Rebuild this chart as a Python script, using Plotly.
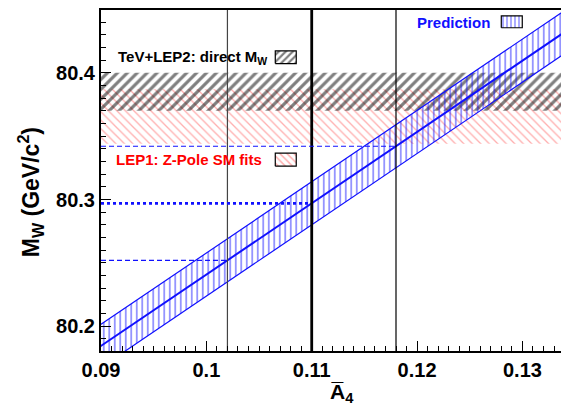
import plotly.graph_objects as go

# ---- data ----
x_range = [0.09, 0.13423]
y_range = [80.1805, 80.4495]

# direct W-mass band (TeV+LEP2)
direct_lo, direct_hi = 80.370, 80.400
# LEP1 Z-pole SM fit band
zpole_lo, zpole_hi = 80.344, 80.387

# prediction band: center line and edges at two A4 values
pred_a4 = [0.085, 0.140]
pred_center = [80.1564, 80.4658]
pred_upper = [80.1734, 80.4828]
pred_lower = [80.1394, 80.4488]

# reference A4 values and predicted MW
ref_a4 = [0.102, 0.110, 0.118]
ref_mw = [80.252, 80.297, 80.342]
ref_width = [1.2, 2.8, 1.2]
ref_dash = ["5px,3px", "3px,3px", "5px,3px"]
ref_vwidth = [1.2, 2.8, 1.2]
ref_vcolor = ["#444444", "black", "black"]

x_ticks = [0.09, 0.10, 0.11, 0.12, 0.13]
x_ticktext = ["0.09", "0.1", "0.11", "0.12", "0.13"]
y_ticks = [80.2, 80.3, 80.4]
y_ticktext = ["80.2", "80.3", "80.4"]

FONT = "Liberation Sans, Arial, Helvetica, sans-serif"
BLUE = "#1010ff"

fig = go.Figure()

x0, x1 = 0.08, 0.15
# red band
fig.add_trace(go.Scatter(
    x=[x0, x1, x1, x0, x0], y=[zpole_lo, zpole_lo, zpole_hi, zpole_hi, zpole_lo],
    fill="toself", mode="lines", line=dict(width=0),
    fillcolor="rgba(0,0,0,0)",
    fillpattern=dict(shape="\\", fgcolor="rgb(255,95,95)", bgcolor="rgba(0,0,0,0)",
                     size=6, solidity=0.22),
    hoverinfo="skip", showlegend=False))
# black band
fig.add_trace(go.Scatter(
    x=[x0, x1, x1, x0, x0], y=[direct_lo, direct_lo, direct_hi, direct_hi, direct_lo],
    fill="toself", mode="lines", line=dict(width=0),
    fillcolor="rgba(0,0,0,0)",
    fillpattern=dict(shape="/", fgcolor="black", bgcolor="rgba(0,0,0,0)",
                     size=7, solidity=0.45),
    hoverinfo="skip", showlegend=False))

# prediction band
fig.add_trace(go.Scatter(
    x=pred_a4 + pred_a4[::-1] + [pred_a4[0]],
    y=pred_upper + pred_lower[::-1] + [pred_upper[0]],
    fill="toself", mode="lines", line=dict(width=1.2, color=BLUE),
    fillcolor="rgba(0,0,0,0)",
    fillpattern=dict(shape="|", fgcolor=BLUE, bgcolor="rgba(0,0,0,0)",
                     size=5.5, solidity=0.3),
    hoverinfo="skip", showlegend=False))
fig.add_trace(go.Scatter(x=pred_a4, y=pred_center, mode="lines",
                         line=dict(width=2, color=BLUE), hoverinfo="skip", showlegend=False))

# horizontal dashed lines and vertical lines
for a, m, w, d, vw, vc in zip(ref_a4, ref_mw, ref_width, ref_dash, ref_vwidth, ref_vcolor):
    fig.add_trace(go.Scatter(x=[x_range[0], a], y=[m, m], mode="lines",
                             line=dict(width=w, color=BLUE, dash=d),
                             hoverinfo="skip", showlegend=False))
    fig.add_trace(go.Scatter(x=[a, a], y=[y_range[0] - 1, y_range[1] + 1], mode="lines",
                             line=dict(width=vw, color=vc),
                             hoverinfo="skip", showlegend=False))

# legend swatches (in plot-area fractions, on overlay axes)
sw = [
    dict(x=[0.374, 0.419], y=[0.843, 0.880], shape="/", fg="black", size=5, sol=0.45),
    dict(x=[0.374, 0.419], y=[0.542, 0.580], shape="\\", fg="rgb(255,95,95)", size=5, sol=0.3),
    dict(x=[0.859, 0.904], y=[0.948, 0.983], shape="|", fg=BLUE, size=4, sol=0.35),
]
for s in sw:
    xa, xb = s["x"]; ya, yb = s["y"]
    fig.add_trace(go.Scatter(
        x=[xa, xb, xb, xa, xa], y=[ya, ya, yb, yb, ya], xaxis="x2", yaxis="y2",
        fill="toself", mode="lines", line=dict(width=1.2, color="black"),
        fillcolor="rgba(0,0,0,0)",
        fillpattern=dict(shape=s["shape"], fgcolor=s["fg"], bgcolor="rgba(0,0,0,0)",
                         size=s["size"], solidity=s["sol"]),
        hoverinfo="skip", showlegend=False))

ann_font = dict(family=FONT, size=15, weight="bold")
annotations = [
    dict(text="TeV+LEP2: direct M<sub>W</sub>", x=0.361, y=0.860, xanchor="right",
         font=dict(ann_font, color="black")),
    dict(text="LEP1: Z-Pole SM fits", x=0.350, y=0.563, xanchor="right",
         font=dict(ann_font, color="red")),
    dict(text="Prediction", x=0.838, y=0.962, xanchor="right",
         font=dict(ann_font, color=BLUE)),
    dict(text="M<sub>W</sub> (GeV/c<sup>2</sup>)", x=-0.152, y=0.466, textangle=-90,
         xanchor="center", yanchor="middle",
         font=dict(family=FONT, size=23, weight="bold", color="black")),
    dict(text="A\u0305<sub>4</sub>", x=0.517, y=-0.122, xanchor="center", yanchor="middle",
         font=dict(family=FONT, size=21, weight="bold", color="black")),
]
for a in annotations:
    a.update(xref="paper", yref="paper", showarrow=False)
    a.setdefault("yanchor", "middle")

# page body has an 8px default margin, so the figure is sized to fit the window
fig.update_layout(
    width=561, height=403,
    margin=dict(l=93, r=0, t=0, b=60, pad=0),
    paper_bgcolor="white", plot_bgcolor="white",
    showlegend=False,
    annotations=annotations,
    xaxis=dict(range=x_range, tickvals=x_ticks, ticktext=x_ticktext,
               ticks="inside", ticklen=10, tickwidth=1, tickcolor="black",
               minor=dict(dtick=0.001, tick0=0.09, ticks="inside", ticklen=5, tickcolor="black", showgrid=False),
               showline=True, linewidth=2, linecolor="black", mirror=True,
               showgrid=False, zeroline=False,
               tickfont=dict(family=FONT, size=20, weight="bold", color="black")),
    yaxis=dict(range=y_range, tickvals=y_ticks, ticktext=y_ticktext,
               ticks="inside", ticklen=10, tickwidth=1, tickcolor="black",
               minor=dict(dtick=0.01, tick0=80.2, ticks="inside", ticklen=5, tickcolor="black", showgrid=False),
               showline=True, linewidth=2, linecolor="black", mirror=True,
               showgrid=False, zeroline=False,
               tickfont=dict(family=FONT, size=20, weight="bold", color="black")),
    xaxis2=dict(overlaying="x", range=[0, 1], visible=False, fixedrange=True),
    yaxis2=dict(overlaying="y", range=[0, 1], visible=False, fixedrange=True),
)

fig.write_html("out.html")
